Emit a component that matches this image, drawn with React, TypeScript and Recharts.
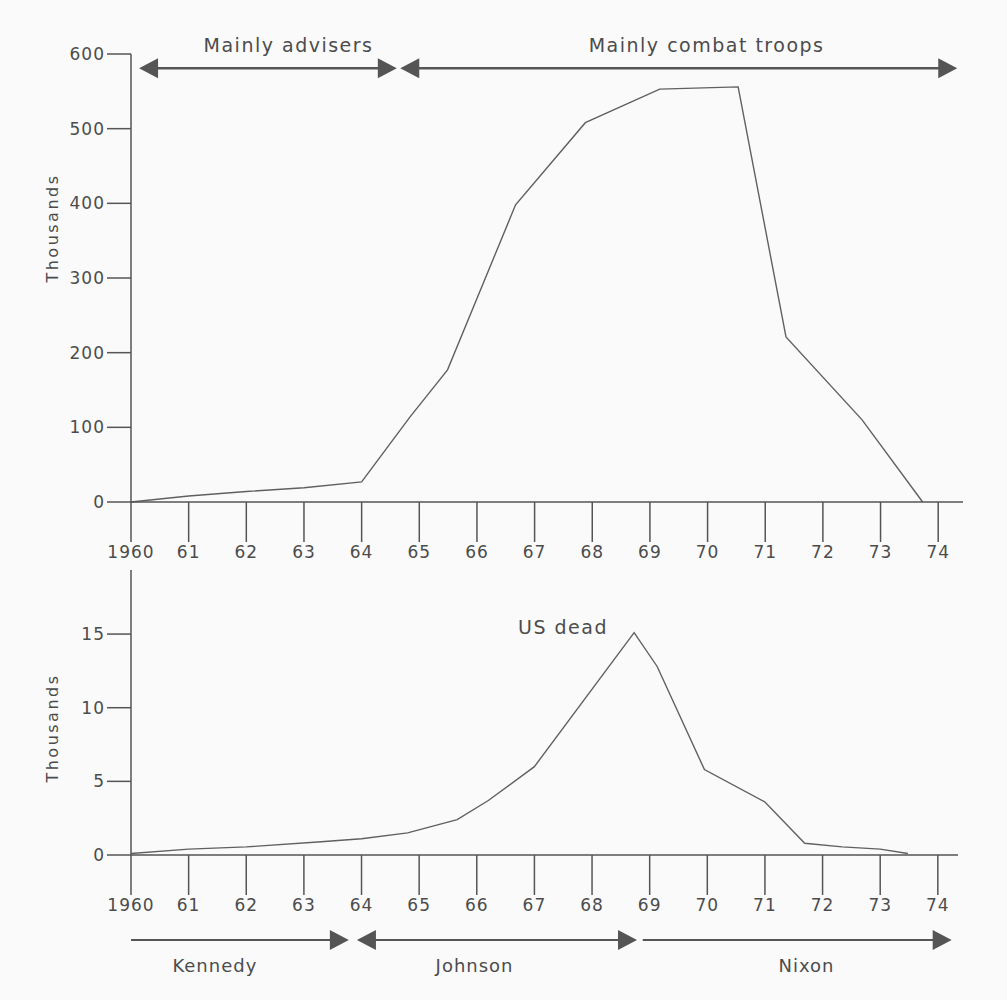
import { LineChart, Line, XAxis, YAxis, ReferenceLine } from 'recharts';

// Year ticks shared by both panels
const YEAR_TICKS = [1960, 1961, 1962, 1963, 1964, 1965, 1966, 1967, 1968, 1969, 1970, 1971, 1972, 1973, 1974];

// US troops in Vietnam (thousands)
const troopYears = [1960, 1961, 1962, 1963, 1964, 1964.84, 1965.49, 1966.67, 1967.88, 1969.17, 1970.53, 1971.36, 1972.68, 1973.73];
const troopValues = [0, 8, 14, 19, 27, 114, 177, 398, 508, 553, 556, 221, 110, 0];
const troopTicks = [0, 100, 200, 300, 400, 500, 600];

// US dead (thousands)
const deadYears = [1960, 1961, 1962, 1963.3, 1964, 1964.8, 1965.66, 1966.2, 1967, 1968.73, 1969.13, 1969.95, 1971, 1971.69, 1972.34, 1973, 1973.48];
const deadValues = [0.1, 0.4, 0.55, 0.9, 1.1, 1.5, 2.4, 3.7, 6.0, 15.1, 12.8, 5.8, 3.6, 0.8, 0.55, 0.4, 0.1];
const deadTicks = [0, 5, 10, 15];

// Periods shown as arrows
const phaseLabels = ['Mainly advisers', 'Mainly combat troops'];
const phaseFrom = [1960.14, 1964.67];
const phaseTo = [1964.61, 1974.33];

const presidentLabels = ['Kennedy', 'Johnson', 'Nixon'];
const presidentFrom = [1960, 1963.92, 1968.88];
const presidentTo = [1963.78, 1968.78, 1974.24];

const troopData = troopYears.map((year, i) => ({ year, value: troopValues[i] }));
const deadData = deadYears.map((year, i) => ({ year, value: deadValues[i] }));

const INK = '#555';
const TEXT = '#4c4c4c';
const FONT = '"DejaVu Sans", sans-serif';

const yearLabel = (y: number) => (y === 1960 ? '1960' : String(y).slice(2));

const Arrow = ({ x1, y1, x2, y2, text, at, startHead, endHead, below, width, fontSize }: any) => {
  const head = 19;
  const half = 10;
  const lx1 = startHead ? x1 + head - 2 : x1;
  const lx2 = endHead ? x2 - head + 2 : x2;
  return (
    <g>
      <line x1={lx1} y1={y1} x2={lx2} y2={y2} stroke={INK} strokeWidth={width} />
      {startHead && (
        <polygon points={`${x1},${y1} ${x1 + head},${y1 - half} ${x1 + head},${y1 + half}`} fill={INK} />
      )}
      {endHead && (
        <polygon points={`${x2},${y2} ${x2 - head},${y2 - half} ${x2 - head},${y2 + half}`} fill={INK} />
      )}
      <text
        x={x1 + (x2 - x1) * at}
        y={below ? y1 + 32 : y1 - 16}
        textAnchor="middle"
        fill={TEXT}
        fontSize={fontSize}
        fontFamily={FONT}
        style={{ letterSpacing: below ? '1px' : '1.5px' }}
      >
        {text}
      </text>
    </g>
  );
};

const phaseAt = [0.58, 0.55];
const presidentAt = [0.385, 0.42, 0.53];
const presidentStart = [false, true, false];

const tickStyle = { fill: TEXT, fontSize: 17, fontFamily: FONT };

export default function App() {
  return (
    <div
      style={{
        position: 'absolute',
        left: 0,
        top: 0,
        width: 1007,
        height: 1000,
        background: '#fafafa',
        fontFamily: FONT,
        letterSpacing: '1px',
      }}
    >
      <div style={{ position: 'absolute', left: 0, top: 0 }}>
        <LineChart width={1007} height={580} data={troopData} margin={{ top: 54, right: 44, bottom: 18, left: 71 }}>
          <XAxis
            dataKey="year"
            type="number"
            domain={[1960, 1974.43]}
            ticks={YEAR_TICKS}
            tickFormatter={yearLabel}
            tickSize={40}
            tickMargin={4}
            height={60}
            stroke={INK}
            strokeWidth={1.5}
            tick={tickStyle}
            interval={0}
          />
          <YAxis
            type="number"
            domain={[0, 600]}
            ticks={troopTicks}
            tickSize={24}
            width={60}
            stroke={INK}
            strokeWidth={1.5}
            tick={tickStyle}
            interval={0}
          />
          {phaseLabels.map((label, i) => (
            <ReferenceLine
              key={label}
              segment={[{ x: phaseFrom[i], y: 581 }, { x: phaseTo[i], y: 581 }]}
              ifOverflow="visible"
              shape={(p: any) => (
                <Arrow {...p} text={label} at={phaseAt[i]} startHead endHead width={2.5} fontSize={19} />
              )}
            />
          ))}
          <Line
            dataKey="value"
            type="linear"
            stroke="#606060"
            strokeWidth={1.4}
            dot={false}
            isAnimationActive={false}
          />
        </LineChart>
      </div>

      <div style={{ position: 'absolute', left: 0, top: 560 }}>
        <LineChart width={1007} height={440} data={deadData} margin={{ top: 10, right: 49, bottom: 85, left: 71 }}>
          <XAxis
            dataKey="year"
            type="number"
            domain={[1960, 1974.35]}
            ticks={YEAR_TICKS}
            tickFormatter={yearLabel}
            tickSize={40}
            tickMargin={4}
            height={60}
            stroke={INK}
            strokeWidth={1.5}
            tick={tickStyle}
            interval={0}
          />
          <YAxis
            type="number"
            domain={[0, 19.35]}
            ticks={deadTicks}
            tickSize={24}
            width={60}
            stroke={INK}
            strokeWidth={1.5}
            tick={tickStyle}
            interval={0}
          />
          {presidentLabels.map((label, i) => (
            <ReferenceLine
              key={label}
              segment={[{ x: presidentFrom[i], y: -5.77 }, { x: presidentTo[i], y: -5.77 }]}
              ifOverflow="visible"
              shape={(p: any) => (
                <Arrow
                  {...p}
                  text={label}
                  at={presidentAt[i]}
                  startHead={presidentStart[i]}
                  endHead
                  below
                  width={2}
                  fontSize={18}
                />
              )}
            />
          ))}
          <Line
            dataKey="value"
            type="linear"
            stroke="#606060"
            strokeWidth={1.4}
            dot={false}
            isAnimationActive={false}
          />
        </LineChart>
      </div>

      <svg width={1007} height={1000} style={{ position: 'absolute', left: 0, top: 0, pointerEvents: 'none' }}>
        <text
          transform="translate(58,228) rotate(-90)"
          textAnchor="middle"
          fill={TEXT}
          fontSize={16}
          fontFamily={FONT}
          style={{ letterSpacing: '2.5px' }}
        >
          Thousands
        </text>
        <text
          transform="translate(58,728) rotate(-90)"
          textAnchor="middle"
          fill={TEXT}
          fontSize={16}
          fontFamily={FONT}
          style={{ letterSpacing: '2.5px' }}
        >
          Thousands
        </text>
        <text x={563} y={634} textAnchor="middle" fill={TEXT} fontSize={19} fontFamily={FONT} style={{ letterSpacing: '1.5px' }}>
          US dead
        </text>
      </svg>
    </div>
  );
}
